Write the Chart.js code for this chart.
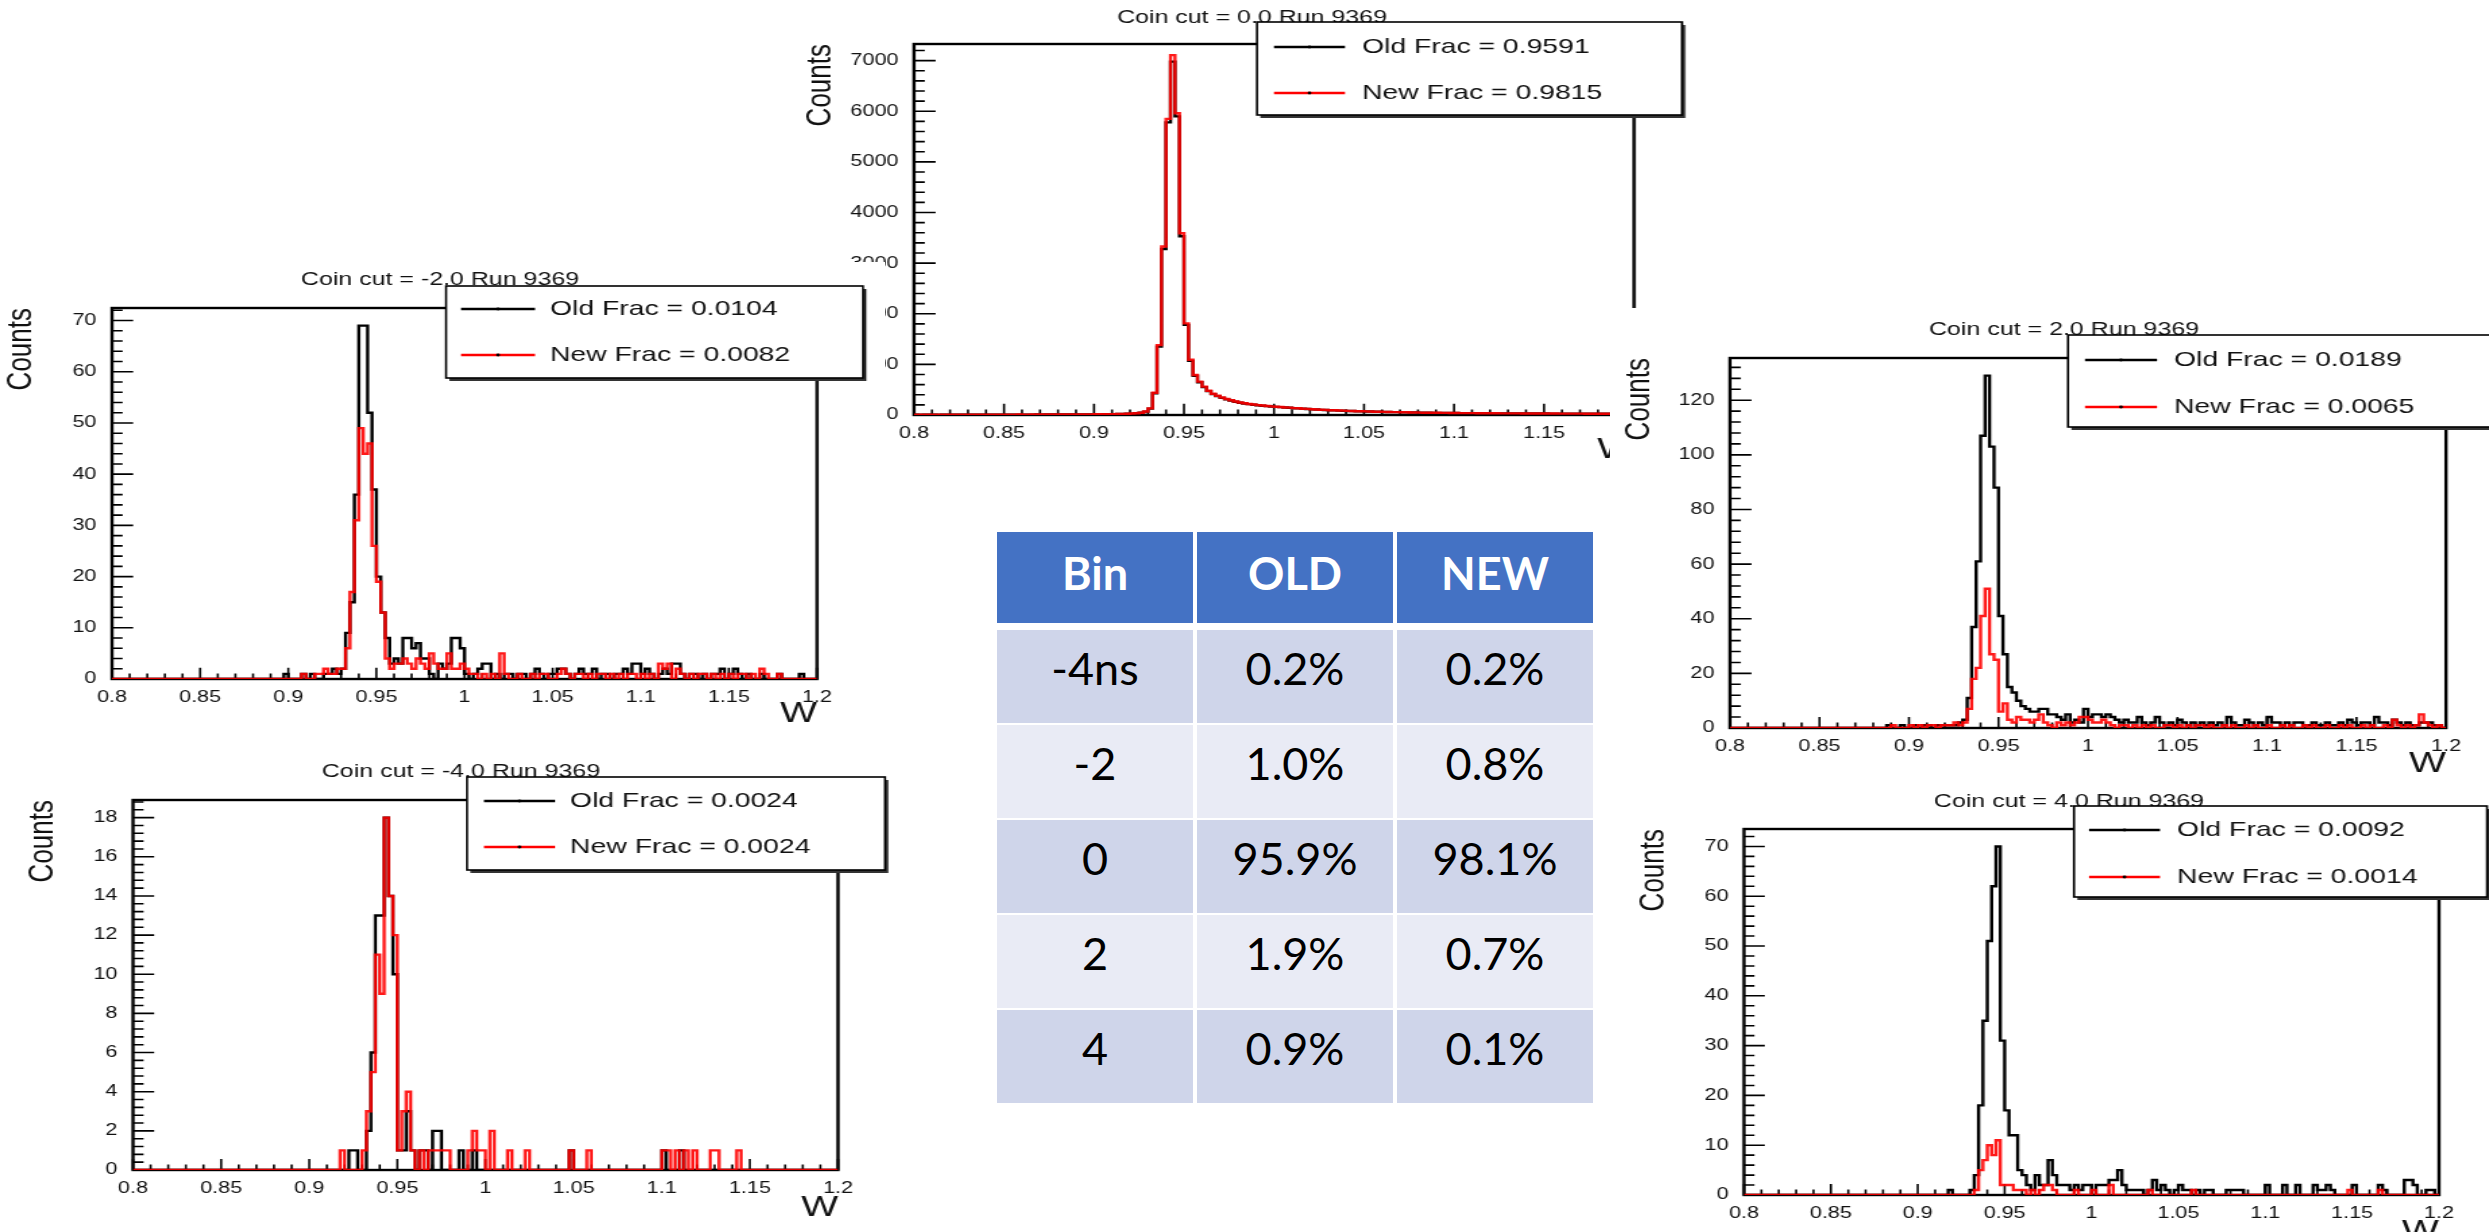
<!DOCTYPE html>
<html><head><meta charset="utf-8">
<script src="https://cdn.jsdelivr.net/npm/chart.js@4.4.1/dist/chart.umd.min.js"></script>
<style>
html,body{margin:0;padding:0;background:#fff;width:2489px;height:1232px;overflow:hidden;position:relative;}
.panel{position:absolute;overflow:hidden;background:#fff;}
.panel canvas{position:absolute;left:0;top:0;transform-origin:0 0;}
.cell{position:absolute;display:flex;align-items:center;justify-content:center;font-family:Lato,"Open Sans",sans-serif;font-size:45px;color:#000;box-sizing:border-box;}
</style></head><body>
<script>
// ---------------- DATA ----------------
const W_MIN = 0.8, W_MAX = 1.2, N_BINS = 160;
const BIN_W = (W_MAX - W_MIN) / N_BINS;

const OLD_0 = [
4,3,4,4,5,3,4,4,5,5,4,5,5,5,6,5,6,6,6,7,
7,7,6,8,8,7,8,9,8,9,9,10,9,11,10,10,11,11,12,12,
13,13,14,15,17,19,21,24,28,34,43,66,125,430,1350,3280,5780,6980,5900,3530,
1780,1070,775,648,550,471,412,373,339,309,285,263,243,228,214,202,192,183,176,168,
161,155,147,142,134,130,122,119,111,108,101,99,93,91,86,84,79,78,73,72,
69,68,64,63,60,59,56,56,52,52,48,48,46,44,44,42,42,40,40,39,
39,37,37,36,36,35,34,34,33,33,32,32,32,31,31,30,30,30,29,29,
29,28,28,27,27,27,26,26,26,25,25,25,24,24,24,24,23,23,23,22];
const NEW_0 = [
4,4,5,4,6,4,5,4,5,6,5,5,6,5,7,6,6,7,6,8,
7,8,7,9,8,8,9,10,9,10,10,11,10,12,11,11,12,12,13,13,
14,14,15,16,18,20,22,26,30,36,45,70,130,440,1380,3330,5850,7110,5960,3590,
1810,1090,790,660,560,480,420,380,345,315,290,268,248,232,218,206,196,187,179,171,
164,158,149,145,136,133,124,121,114,110,103,101,95,93,88,86,81,80,75,74,
71,69,65,64,61,60,57,57,53,53,49,49,47,45,45,43,43,41,41,40,
40,38,38,37,37,36,35,35,34,34,33,33,33,32,32,31,31,31,30,30,
30,29,29,28,28,28,27,27,27,26,26,26,25,25,25,25,24,24,24,23];

const OLD_M2 = [
0,0,0,0,0,0,0,0,0,0,0,0,0,0,0,0,0,0,0,0,
0,0,0,0,0,0,0,0,0,0,0,0,0,0,0,0,0,0,0,1,
0,0,0,1,0,1,0,0,1,1,2,1,2,9,15,36,69,69,52,37,
20,13,8,3,4,3,8,8,6,7,4,4,1,0,3,2,3,8,8,6,
1,0,1,2,3,3,0,1,0,1,1,0,1,1,0,1,2,1,0,1,
1,2,2,1,0,1,2,1,1,2,0,1,1,0,1,1,2,1,3,3,
1,2,1,0,1,2,1,3,3,1,0,1,1,0,1,0,1,1,2,0,
1,2,1,0,1,0,0,1,0,0,0,1,0,0,0,0,1,0,0,0];
const NEW_M2 = [
0,0,0,0,0,0,0,0,0,0,0,0,0,0,0,0,0,0,0,0,
0,0,0,0,0,0,0,0,0,0,0,0,0,0,0,0,0,0,0,0,
0,0,0,1,0,0,1,1,2,1,1,2,2,6,17,31,49,44,46,26,
19,13,4,2,3,3,4,3,2,4,3,2,5,3,2,2,5,2,2,3,
2,1,1,0,1,0,1,0,5,1,0,0,1,0,0,1,0,1,1,0,
0,1,2,1,0,1,1,0,1,0,1,1,0,1,0,1,0,1,1,0,
1,0,1,0,3,2,3,0,2,1,0,1,0,1,1,0,1,0,1,0,
1,0,1,1,0,1,0,2,1,0,0,1,0,0,0,0,0,0,0,0];

const OLD_M4 = [
0,0,0,0,0,0,0,0,0,0,0,0,0,0,0,0,0,0,0,0,
0,0,0,0,0,0,0,0,0,0,0,0,0,0,0,0,0,0,0,0,
0,0,0,0,0,0,0,0,0,1,1,0,0,2,6,13,13,18,14,10,
1,1,3,1,0,1,1,0,2,2,0,0,0,0,1,0,0,1,0,0,
0,0,0,0,0,0,0,0,0,0,0,0,0,0,0,0,0,0,0,1,
0,0,0,0,0,0,0,0,0,0,0,0,0,0,0,0,0,0,0,0,
1,0,0,0,1,0,0,0,0,0,0,0,0,0,0,0,0,0,0,0,
0,0,0,0,0,0,0,0,0,0,0,0,0,0,0,0,0,0,0,0];
const NEW_M4 = [
0,0,0,0,0,0,0,0,0,0,0,0,0,0,0,0,0,0,0,0,
0,0,0,0,0,0,0,0,0,0,0,0,0,0,0,0,0,0,0,0,
0,0,0,0,0,0,0,1,0,0,0,0,1,3,5,11,9,18,14,12,
1,3,4,1,0,1,0,1,1,1,1,1,0,0,0,0,1,2,1,1,
0,2,0,0,0,1,0,0,0,1,0,0,0,0,0,0,0,0,0,1,
0,0,0,1,0,0,0,0,0,0,0,0,0,0,0,0,0,0,0,0,
1,1,0,1,0,1,0,1,0,0,0,1,1,0,0,0,0,1,0,0,
0,0,0,0,0,0,0,0,0,0,0,0,0,0,0,0,0,0,0,0];

const OLD_P2 = [
0,0,0,0,0,0,0,0,0,0,0,0,0,0,0,0,0,0,0,0,
0,0,0,0,0,0,0,0,0,0,0,0,0,0,0,1,0,0,1,0,
0,1,0,1,1,0,1,1,1,1,1,2,3,11,37,61,107,129,103,88,
41,27,15,13,10,8,7,6,6,7,7,5,5,4,3,5,2,3,2,7,
4,5,5,4,5,4,3,2,3,2,2,4,2,1,2,4,2,1,2,1,
3,2,1,2,1,2,1,2,1,2,1,4,2,1,1,3,2,1,2,1,
4,2,2,1,2,1,2,2,1,1,2,1,1,2,1,1,2,1,3,2,
1,2,2,1,4,2,2,1,3,2,1,2,1,1,2,2,2,1,1,0];
const NEW_P2 = [
0,0,0,0,0,0,0,0,0,0,0,0,0,0,0,0,0,0,0,0,
0,0,0,0,0,0,0,0,0,0,0,0,0,0,0,0,1,0,0,0,
1,0,1,0,1,1,0,1,1,1,2,1,2,7,18,22,41,51,27,25,
6,9,3,2,4,3,3,2,3,5,2,1,0,2,1,2,1,2,4,4,
3,2,2,3,2,1,0,1,1,0,1,0,1,0,1,0,0,1,1,0,
1,0,1,0,1,1,0,1,0,0,1,0,1,0,0,1,0,1,0,0,
1,0,0,1,0,1,0,0,1,0,1,0,0,1,0,0,1,0,1,0,
0,1,0,1,0,0,1,0,3,1,0,1,0,1,5,2,1,0,1,0];

const OLD_P4 = [
0,0,0,0,0,0,0,0,0,0,0,0,0,0,0,0,0,0,0,0,
0,0,0,0,0,0,0,0,0,0,0,0,0,0,0,0,0,0,0,0,
0,0,0,0,0,0,0,1,0,0,0,0,1,4,18,35,51,62,70,31,
17,12,12,5,4,2,1,4,2,2,7,4,2,2,2,1,2,1,2,2,
0,2,2,2,3,3,5,2,1,1,1,1,0,1,3,1,2,1,0,1,
2,1,1,0,1,0,1,1,0,0,0,1,1,1,1,0,0,0,0,0,
2,0,0,0,2,0,0,2,0,0,0,2,1,1,2,1,0,0,0,0,
2,0,0,0,0,0,2,1,0,0,0,0,3,3,2,0,0,1,1,0];
const NEW_P4 = [
0,0,0,0,0,0,0,0,0,0,0,0,0,0,0,0,0,0,0,0,
0,0,0,0,0,0,0,0,0,0,0,0,0,0,0,0,0,0,0,0,
0,0,0,0,0,0,0,0,0,0,0,0,0,1,5,7,10,8,11,2,
2,2,1,1,1,0,1,0,1,2,2,1,0,0,0,0,1,0,0,0,
1,0,0,0,2,0,0,0,0,0,0,0,0,1,0,0,0,0,0,0,
0,0,0,1,0,0,0,0,0,0,0,0,0,0,0,0,0,0,0,0,
0,0,0,0,0,0,0,0,0,0,0,0,0,0,0,0,0,0,0,1,
0,0,0,0,0,0,1,0,0,0,0,0,0,0,0,0,0,0,0,0];

const TITLES = ['Coin cut = 0.0 Run 9369','Coin cut = -2.0 Run 9369','Coin cut = -4.0 Run 9369','Coin cut = 2.0 Run 9369','Coin cut = 4.0 Run 9369'];
const OLD_FRAC = ['0.9591','0.0104','0.0024','0.0189','0.0092'];
const NEW_FRAC = ['0.9815','0.0082','0.0024','0.0065','0.0014'];
const Y_STEPS = [1000, 10, 2, 20, 10];

const TABLE_HEAD = ['Bin','OLD','NEW'];
const BIN_LABELS = ['-4ns','-2','0','2','4'];
const OLD_PCT = ['0.2%','1.0%','95.9%','1.9%','0.9%'];
const NEW_PCT = ['0.2%','0.8%','98.1%','0.7%','0.1%'];

// ---------------- LAYOUT (page px) ----------------
const STRETCH = 1.35;
const FONT = '"Liberation Sans", Arial, Helvetica, sans-serif';
const INK = '#111';

const PANELS = [
 {k:0, old:OLD_0, neu:NEW_0, box:[794,0,896,470], frame:[914,44,1634,415], titleAt:[1252,23],
  legend:[1257,22,1682,115], rows:[47,93], sample:[1274,1345], textX:1362, countsX:821, wY:450},
 {k:1, old:OLD_M2, neu:NEW_M2, box:[0,262,885,490], frame:[112,308,817,679], titleAt:[440,285],
  legend:[446,286,863,378], rows:[309,355], sample:[461,535], textX:550, countsX:22, wY:714},
 {k:3, old:OLD_P2, neu:NEW_P2, box:[1610,308,879,470], frame:[1730,358,2446,728], titleAt:[2064,335],
  legend:[2068,335,2495,427], rows:[360,407], sample:[2085,2157], textX:2174, countsX:1640, wY:766},
 {k:2, old:OLD_M4, neu:NEW_M4, box:[0,754,890,478], frame:[133,800,838,1170], titleAt:[461,777],
  legend:[467,777,885,870], rows:[801,847], sample:[484,555], textX:570, countsX:43, wY:1208},
 {k:4, old:OLD_P4, neu:NEW_P4, box:[1619,778,870,480], frame:[1744,829,2439,1195], titleAt:[2069,807],
  legend:[2074,806,2487,897], rows:[830,877], sample:[2089,2160], textX:2177, countsX:1654, wY:1232}
];

[OLD_0,NEW_0,OLD_M2,NEW_M2,OLD_M4,NEW_M4,OLD_P2,NEW_P2,OLD_P4,NEW_P4].forEach((a,i)=>{
  if (a.length !== N_BINS) throw new Error('array '+i+' has length '+a.length);
});

function histPoints(arr){
  const pts = arr.map((v,i)=>({x: W_MIN + i*BIN_W, y: v}));
  pts.push({x: W_MAX, y: arr[arr.length-1]});
  return pts;
}

function buildPanel(p){
  const [L,T,W,H] = p.box;
  const Wi = Math.round(W/STRETCH), sx = W/Wi;
  const ix = X => (X-L)/sx, iy = Y => Y-T;
  const div = document.createElement('div'); div.className='panel';
  Object.assign(div.style,{left:L+'px',top:T+'px',width:W+'px',height:H+'px'});
  const cv = document.createElement('canvas'); cv.width=Wi; cv.height=H;
  cv.style.width=Wi+'px'; cv.style.height=H+'px'; cv.style.transform='scaleX('+sx+')';
  div.appendChild(cv); document.body.appendChild(div);

  const cl=ix(p.frame[0]), ct=iy(p.frame[1]), cr=ix(p.frame[2]), cb=iy(p.frame[3]);
  const yStep = Y_STEPS[p.k];
  const ymax = Math.max(...p.old)*1.05;
  const wPad = Math.max(0, H - iy(p.wY) - 14.5);
  const cPad = Math.max(0, ix(p.countsX) - 13);

  const deco = {
    id:'deco'+p.k,
    beforeDatasetsDraw(chart){
      const {ctx, chartArea:a, scales:{x,y}} = chart;
      ctx.save();
      ctx.strokeStyle='#000'; ctx.lineWidth=1.6;
      const majX = 0.03*(a.bottom-a.top), majY = 0.03*(a.right-a.left);
      ctx.beginPath();
      for (let k=0;k<=40;k++){
        const px = x.getPixelForValue(W_MIN + k*0.01);
        const len = (k%5===0)? majX : majX/2;
        ctx.moveTo(px, a.bottom); ctx.lineTo(px, a.bottom-len);
      }
      const minor = yStep/5;
      const nMin = Math.floor(ymax/minor + 1e-9);
      for (let k=0;k<=nMin;k++){
        const py = y.getPixelForValue(k*minor);
        const len = (k%5===0)? majY : majY/2;
        ctx.moveTo(a.left, py); ctx.lineTo(a.left+len, py);
      }
      ctx.stroke();
      ctx.lineWidth=2.4;
      ctx.strokeRect(a.left, a.top, a.right-a.left, a.bottom-a.top);
      ctx.restore();
    },
    afterDraw(chart){
      const ctx = chart.ctx;
      ctx.save();
      ctx.fillStyle=INK; ctx.font='18.5px '+FONT; ctx.textAlign='center'; ctx.textBaseline='alphabetic';
      ctx.fillText(TITLES[p.k], ix(p.titleAt[0]), iy(p.titleAt[1]));
      const lx0=ix(p.legend[0]), ly0=iy(p.legend[1]), lx1=ix(p.legend[2]), ly1=iy(p.legend[3]);
      ctx.fillStyle='#333'; ctx.fillRect(lx0+2.5, ly0+3, lx1-lx0, ly1-ly0);
      ctx.fillStyle='#fff'; ctx.fillRect(lx0, ly0, lx1-lx0, ly1-ly0);
      ctx.strokeStyle='#000'; ctx.lineWidth=1.6; ctx.strokeRect(lx0, ly0, lx1-lx0, ly1-ly0);
      const entries = [['#000','Old Frac = '+OLD_FRAC[p.k]],['#ff0000','New Frac = '+NEW_FRAC[p.k]]];
      entries.forEach((e,j)=>{
        const ry = iy(p.rows[j]);
        const s0 = ix(p.sample[0]), s1 = ix(p.sample[1]);
        ctx.strokeStyle=e[0]; ctx.lineWidth=2.4;
        ctx.beginPath(); ctx.moveTo(s0, ry); ctx.lineTo(s1, ry); ctx.stroke();
        ctx.fillStyle='#000'; ctx.beginPath(); ctx.arc((s0+s1)/2, ry, 1.4, 0, Math.PI*2); ctx.fill();
        ctx.fillStyle=INK; ctx.font='21px '+FONT; ctx.textAlign='left'; ctx.textBaseline='middle';
        ctx.fillText(e[1], ix(p.textX), ry);
      });
      ctx.restore();
    }
  };

  new Chart(cv, {
    type:'line',
    data:{datasets:[
      {label:'Old', data:histPoints(p.old), borderColor:'#000', borderWidth:2.4, stepped:true,
       pointRadius:0, pointHitRadius:0, fill:false, tension:0, order:2},
      {label:'New', data:histPoints(p.neu), borderColor:'rgba(255,0,0,0.9)', borderWidth:2.4, stepped:true,
       pointRadius:0, pointHitRadius:0, fill:false, tension:0, order:1}
    ]},
    options:{
      responsive:false, animation:false, devicePixelRatio:1, events:[],
      layout:{padding:{left:0, top:ct, right:Wi-cr, bottom:0}},
      plugins:{legend:{display:false}, tooltip:{enabled:false}, title:{display:false}},
      scales:{
        x:{type:'linear', min:W_MIN, max:W_MAX,
           afterFit:(s)=>{s.height = H - cb;},
           grid:{display:false}, border:{display:false},
           ticks:{stepSize:0.05, autoSkip:false, maxRotation:0, minRotation:0, padding:1, color:INK,
                  font:{family:FONT, size:16}, callback:(v)=>String(+(+v).toFixed(2))},
           title:{display:true, text:'W', align:'end', color:INK, font:{family:FONT, size:29, lineHeight:1},
                  padding:{top:0, bottom:wPad}}},
        y:{type:'linear', min:0, max:ymax,
           afterFit:(s)=>{s.width = cl;},
           afterBuildTicks:(s)=>{
             const t=[]; for (let v=0; v<=ymax+1e-9; v+=yStep) t.push({value:v}); s.ticks=t;
           },
           grid:{display:false}, border:{display:false},
           ticks:{stepSize:yStep, includeBounds:false, padding:3.5, color:INK, font:{family:FONT, size:16},
                  callback:(v)=>String(Math.round(v))},
           title:{display:true, text:'Counts', align:'end', color:INK, font:{family:FONT, size:26, lineHeight:1},
                  padding:{top:cPad, bottom:0}}}
      }
    },
    plugins:[deco]
  });
}

PANELS.forEach(buildPanel);

// ---------------- TABLE ----------------
(function(){
  const colLeft=[997,1197,1397], colW=196;
  const headTop=532, headH=91, bodyTop=630, pitch=95, rowH=93;
  const add=(txt,l,t,w,h,bg,extra)=>{
    const d=document.createElement('div'); d.className='cell'; d.textContent=txt;
    Object.assign(d.style,{left:l+'px',top:t+'px',width:w+'px',height:h+'px',background:bg},extra||{});
    document.body.appendChild(d);
  };
  TABLE_HEAD.forEach((h,c)=>add(h,colLeft[c],headTop,colW,headH,'#4472C4',{color:'#fff',fontWeight:'700',paddingBottom:'10px'}));
  BIN_LABELS.forEach((b,r)=>{
    const bg = (r%2===0)? '#CFD5EA' : '#E9EBF5';
    const vals=[b, OLD_PCT[r], NEW_PCT[r]];
    vals.forEach((v,c)=>add(v,colLeft[c],bodyTop+r*pitch,colW,rowH,bg,{paddingBottom:'18px'}));
  });
})();
</script></body></html>
